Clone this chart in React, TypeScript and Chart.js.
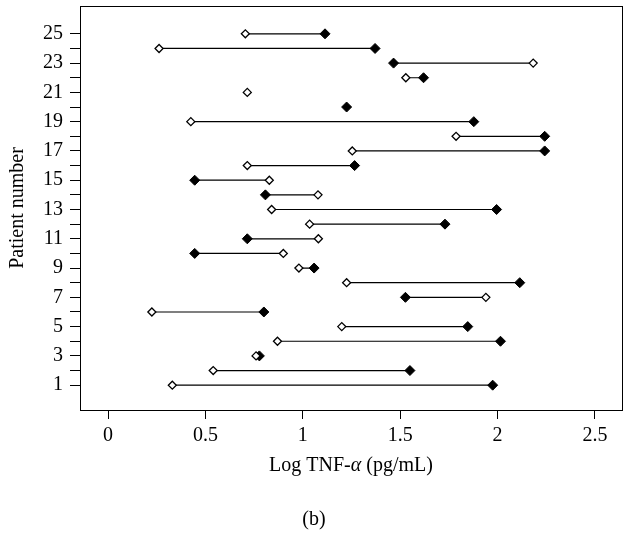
import React, { useEffect, useRef } from "react";
import { Chart, registerables } from "chart.js";

Chart.register(...registerables);

// ---- data ----
const patients: number[] = [
  1, 2, 3, 4, 5, 6, 7, 8, 9, 10, 11, 12, 13, 14, 15, 16, 17, 18, 19, 20, 21, 22, 23, 24, 25,
];
// open diamonds
const openValues: (number | null)[] = [
  0.33, 0.54, 0.76, 0.87, 1.2, 0.225, 1.94, 1.225, 0.98, 0.9, 1.08, 1.035, 0.84, 1.078, 0.828,
  0.715, 1.254, 1.787, 0.425, null, 0.715, 1.529, 2.183, 0.262, 0.705,
];
// filled diamonds
const filledValues: (number | null)[] = [
  1.975, 1.55, 0.777, 2.015, 1.847, 0.8, 1.527, 2.114, 1.058, 0.445, 0.715, 1.73, 1.995, 0.808,
  0.445, 1.266, 2.242, 2.242, 1.878, 1.225, null, 1.62, 1.466, 1.371, 1.114,
];
const xTickValues: number[] = [0, 0.5, 1, 1.5, 2, 2.5];
const yTickValues: number[] = patients;
const xTitleParts: { text: string; italic: boolean }[] = [
  { text: "Log TNF-", italic: false },
  { text: "α", italic: true },
  { text: " (pg/mL)", italic: false },
];
const yTitle = "Patient number";
const panelLabel = "(b)";

const FONT = "'Liberation Serif', 'Times New Roman', serif";
const FS = 20;

const framePlugin = {
  id: "frame",
  beforeDatasetsDraw(chart: any) {
    const { ctx, chartArea: a } = chart;
    ctx.save();
    ctx.strokeStyle = "#000";
    ctx.lineWidth = 1;
    const l = Math.round(a.left) + 0.5;
    const t = Math.round(a.top) + 0.5;
    const r = Math.round(a.right) + 0.5;
    const b = Math.round(a.bottom) + 0.5;
    ctx.strokeRect(l, t, r - l, b - t);
    ctx.restore();
  },
};

const textPlugin = {
  id: "texts",
  afterDraw(chart: any) {
    const { ctx, chartArea: a } = chart;
    ctx.save();
    ctx.fillStyle = "#000";
    ctx.textBaseline = "middle";
    // x-axis title with italic alpha
    const fonts = xTitleParts.map((p) => `${p.italic ? "italic " : ""}${FS}px ${FONT}`);
    const widths = xTitleParts.map((p, i) => {
      ctx.font = fonts[i];
      return ctx.measureText(p.text).width;
    });
    const total = widths.reduce((s, w) => s + w, 0);
    let x = (a.left + a.right) / 2 - total / 2;
    ctx.textAlign = "left";
    xTitleParts.forEach((p, i) => {
      ctx.font = fonts[i];
      ctx.fillText(p.text, x, 466);
      x += widths[i];
    });
    // panel label
    ctx.font = `${FS}px ${FONT}`;
    ctx.textAlign = "center";
    ctx.fillText(panelLabel, 314, 520);
    ctx.restore();
  },
};

export default function App() {
  const ref = useRef<HTMLCanvasElement | null>(null);

  useEffect(() => {
    if (!ref.current) return;
    const lineData: any[] = [];
    patients.forEach((p, i) => {
      const o = openValues[i];
      const f = filledValues[i];
      if (o !== null && f !== null) {
        lineData.push({ x: o, y: p }, { x: f, y: p }, { x: null, y: null });
      }
    });
    const openData = patients
      .map((p, i) => ({ x: openValues[i], y: p }))
      .filter((d) => d.x !== null);
    const filledData = patients
      .map((p, i) => ({ x: filledValues[i], y: p }))
      .filter((d) => d.x !== null);

    const chart = new Chart(ref.current, {
      type: "scatter",
      data: {
        datasets: [
          {
            data: openData as any,
            pointStyle: "rectRot",
            pointRadius: 4,
            pointBackgroundColor: "#fff",
            pointBorderColor: "#000",
            pointBorderWidth: 1.3,
          },
          {
            data: filledData as any,
            pointStyle: "rectRot",
            pointRadius: 5,
            pointBackgroundColor: "#000",
            pointBorderColor: "#000",
            pointBorderWidth: 1,
          },
          {
            data: lineData,
            showLine: true,
            spanGaps: false,
            pointRadius: 0,
            borderColor: "#000",
            borderWidth: 1.2,
          } as any,
        ],
      },
      options: {
        responsive: false,
        animation: false,
        events: [],
        layout: { padding: { top: 3, right: 21, left: 0, bottom: 0 } },
        plugins: { legend: { display: false }, tooltip: { enabled: false } },
        scales: {
          x: {
            type: "linear",
            min: -0.144,
            max: 2.639,
            afterBuildTicks: (s: any) => {
              s.ticks = xTickValues.map((v) => ({ value: v }));
            },
            afterFit: (s: any) => {
              s.height = 124;
              s.paddingLeft = 0;
              s.paddingRight = 0;
            },
            ticks: {
              color: "#000",
              font: { family: FONT, size: FS, lineHeight: 1.2 },
              padding: 5,
              maxRotation: 0,
              autoSkip: false,
              callback: (v: any) => String(v),
            },
            grid: { drawOnChartArea: false, drawTicks: true, tickLength: 9, color: "#000", lineWidth: 1 },
            border: { display: true, color: "#000", width: 1 },
            title: { display: false },
          },
          y: {
            type: "linear",
            min: -0.695,
            max: 26.9,
            afterBuildTicks: (s: any) => {
              s.ticks = yTickValues.map((v) => ({ value: v }));
            },
            afterFit: (s: any) => {
              s.width = 80;
              s.paddingTop = 0;
              s.paddingBottom = 0;
            },
            ticks: {
              color: "#000",
              font: { family: FONT, size: FS, lineHeight: 1.2 },
              padding: 7,
              autoSkip: false,
              callback: (v: any) => (Number(v) % 2 === 1 ? String(v) : ""),
            },
            grid: { drawOnChartArea: false, drawTicks: true, tickLength: 10, color: "#000", lineWidth: 1 },
            border: { display: true, color: "#000", width: 1 },
            title: {
              display: true,
              text: yTitle,
              color: "#000",
              font: { family: FONT, size: FS, lineHeight: 1.2 },
              padding: { top: 6, bottom: 0 },
            },
          },
        },
      },
      plugins: [framePlugin, textPlugin],
    });
    return () => chart.destroy();
  }, []);

  return (
    <div style={{ position: "fixed", left: 0, top: 0, width: 643, height: 534, background: "#fff" }}>
      <canvas ref={ref} width={643} height={534} style={{ width: 643, height: 534, display: "block" }} />
    </div>
  );
}
